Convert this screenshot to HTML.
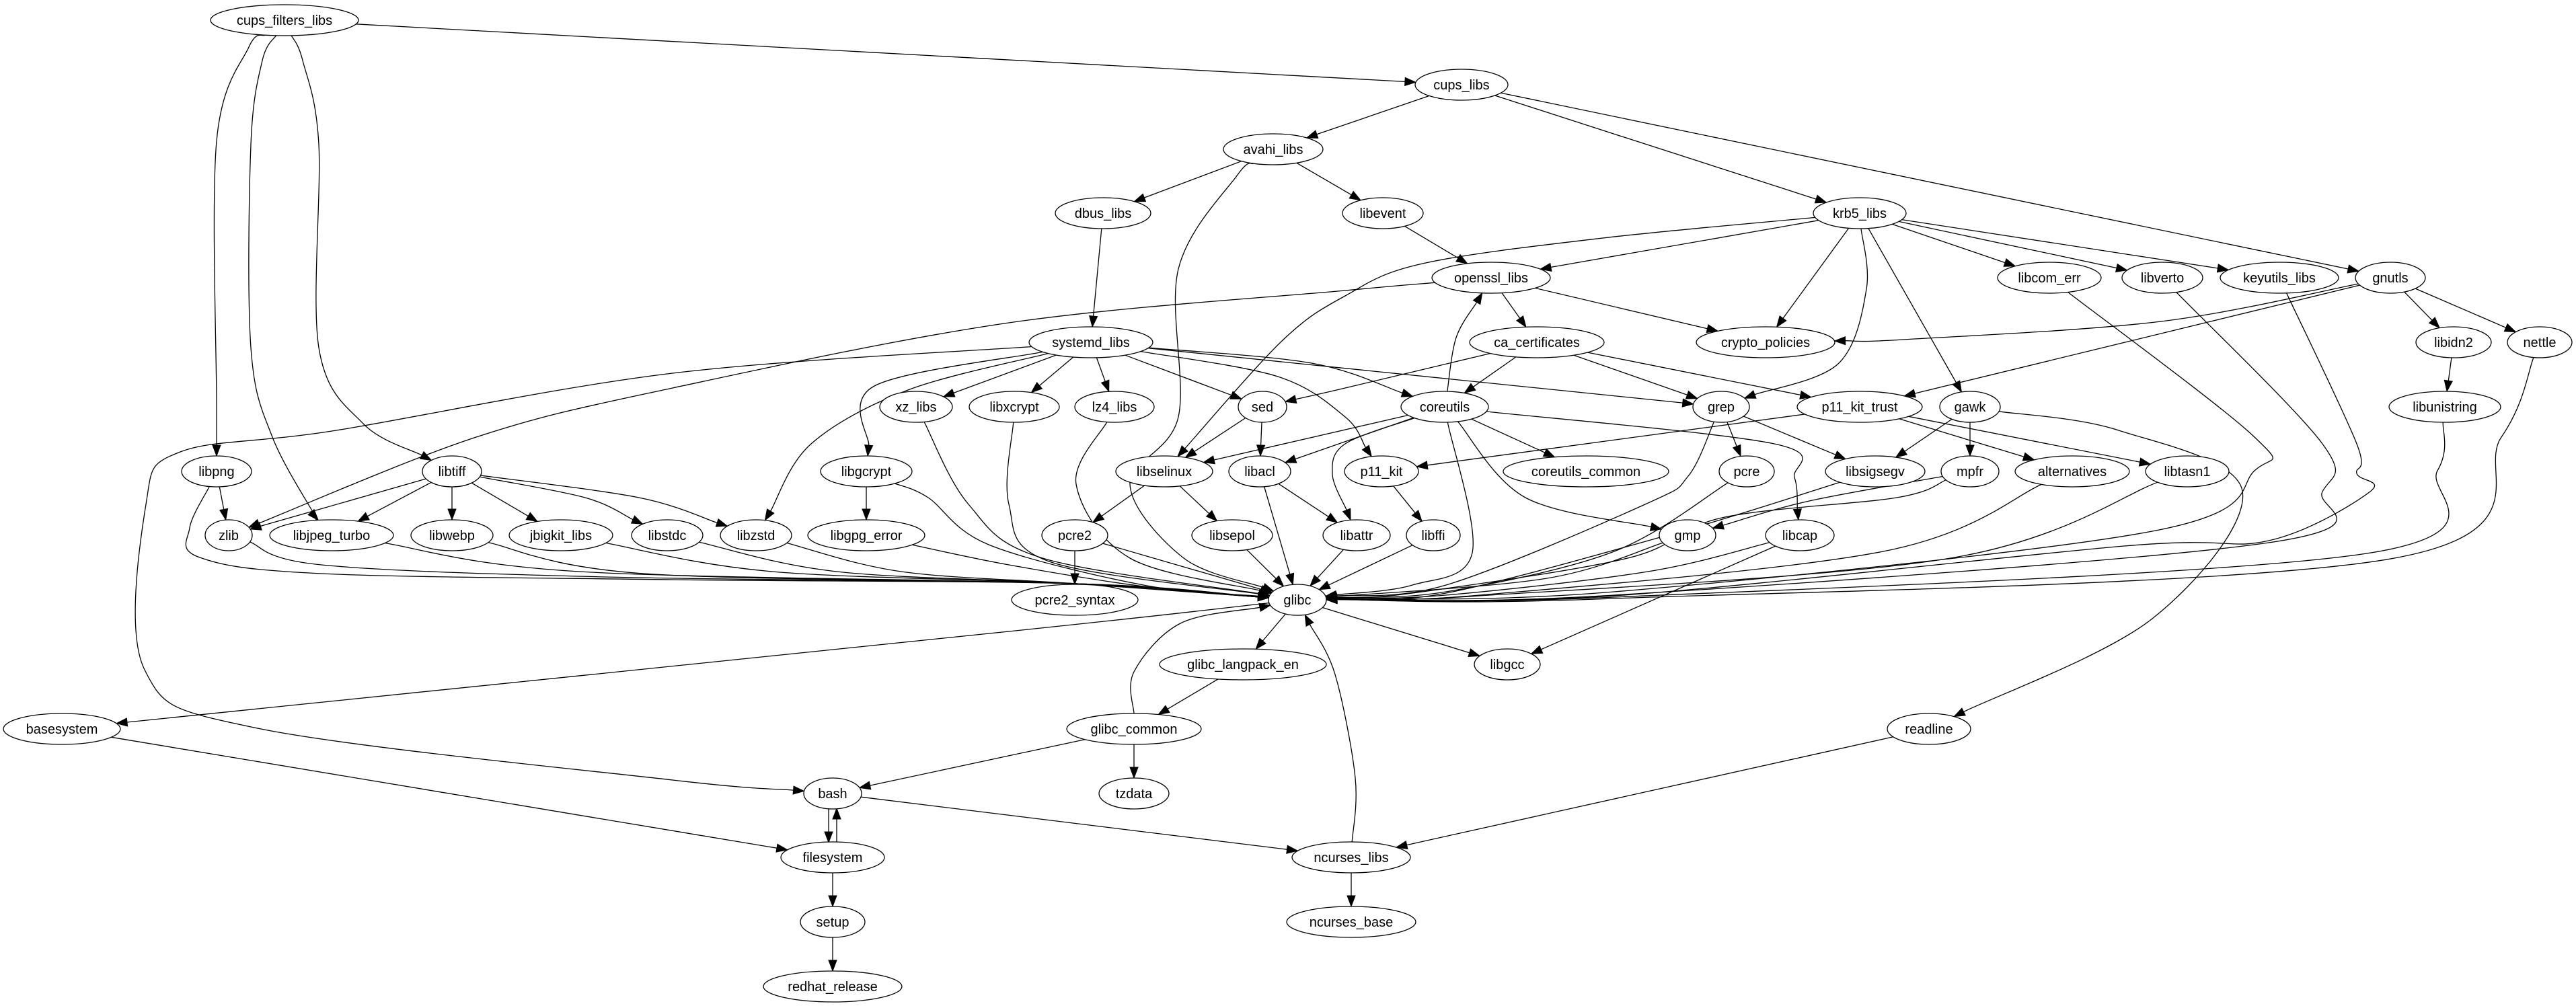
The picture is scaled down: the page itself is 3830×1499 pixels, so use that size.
<!DOCTYPE html>
<html><head><meta charset="utf-8"><style>
html,body{margin:0;padding:0;background:#fff;}
svg{display:block;}
text{font-family:"Liberation Sans","DejaVu Sans",sans-serif;font-size:20px;fill:#000;stroke:none;}
</style></head><body>
<svg id="g" width="3830" height="1499" viewBox="0 0 3830 1499" xmlns="http://www.w3.org/2000/svg">
<g id="edges" fill="none" stroke="#000" stroke-width="1.3"></g>
<g id="arrows" fill="#000" stroke="#000" stroke-width="1"></g>
<g id="nodes" fill="#fff" stroke="#000" stroke-width="1.3" text-anchor="middle">
<ellipse cx="423" cy="30" rx="110" ry="23"/><text x="423" y="37">cups_filters_libs</text>
<ellipse cx="2173" cy="126" rx="69" ry="23"/><text x="2173" y="133">cups_libs</text>
<ellipse cx="1893" cy="222" rx="74" ry="23"/><text x="1893" y="229">avahi_libs</text>
<ellipse cx="1640" cy="317" rx="71" ry="23"/><text x="1640" y="324">dbus_libs</text>
<ellipse cx="2056" cy="317" rx="60" ry="23"/><text x="2056" y="324">libevent</text>
<ellipse cx="2765" cy="317" rx="69" ry="23"/><text x="2765" y="324">krb5_libs</text>
<ellipse cx="2217" cy="413" rx="88" ry="23"/><text x="2217" y="420">openssl_libs</text>
<ellipse cx="3047" cy="413" rx="77" ry="23"/><text x="3047" y="420">libcom_err</text>
<ellipse cx="3215" cy="413" rx="60" ry="23"/><text x="3215" y="420">libverto</text>
<ellipse cx="3389" cy="413" rx="88" ry="23"/><text x="3389" y="420">keyutils_libs</text>
<ellipse cx="3554" cy="413" rx="52" ry="23"/><text x="3554" y="420">gnutls</text>
<ellipse cx="1622" cy="509" rx="92" ry="23"/><text x="1622" y="516">systemd_libs</text>
<ellipse cx="2285" cy="509" rx="100" ry="23"/><text x="2285" y="516">ca_certificates</text>
<ellipse cx="2625" cy="509" rx="103" ry="23"/><text x="2625" y="516">crypto_policies</text>
<ellipse cx="3648" cy="509" rx="56" ry="23"/><text x="3648" y="516">libidn2</text>
<ellipse cx="3776" cy="509" rx="48" ry="23"/><text x="3776" y="516">nettle</text>
<ellipse cx="1362" cy="605" rx="54" ry="23"/><text x="1362" y="612">xz_libs</text>
<ellipse cx="1508" cy="605" rx="67" ry="23"/><text x="1508" y="612">libxcrypt</text>
<ellipse cx="1657" cy="605" rx="59" ry="23"/><text x="1657" y="612">lz4_libs</text>
<ellipse cx="1877" cy="605" rx="36" ry="23"/><text x="1877" y="612">sed</text>
<ellipse cx="2148" cy="605" rx="65" ry="23"/><text x="2148" y="612">coreutils</text>
<ellipse cx="2559" cy="605" rx="42" ry="23"/><text x="2559" y="612">grep</text>
<ellipse cx="2765" cy="605" rx="93" ry="23"/><text x="2765" y="612">p11_kit_trust</text>
<ellipse cx="2929" cy="605" rx="45" ry="23"/><text x="2929" y="612">gawk</text>
<ellipse cx="3635" cy="605" rx="83" ry="23"/><text x="3635" y="612">libunistring</text>
<ellipse cx="322" cy="701" rx="52" ry="23"/><text x="322" y="708">libpng</text>
<ellipse cx="672" cy="701" rx="44" ry="23"/><text x="672" y="708">libtiff</text>
<ellipse cx="1288" cy="701" rx="68" ry="23"/><text x="1288" y="708">libgcrypt</text>
<ellipse cx="1731" cy="701" rx="72" ry="23"/><text x="1731" y="708">libselinux</text>
<ellipse cx="1873" cy="701" rx="46" ry="23"/><text x="1873" y="708">libacl</text>
<ellipse cx="2054" cy="701" rx="55" ry="23"/><text x="2054" y="708">p11_kit</text>
<ellipse cx="2358" cy="701" rx="123" ry="23"/><text x="2358" y="708">coreutils_common</text>
<ellipse cx="2597" cy="701" rx="41" ry="23"/><text x="2597" y="708">pcre</text>
<ellipse cx="2788" cy="701" rx="74" ry="23"/><text x="2788" y="708">libsigsegv</text>
<ellipse cx="2929" cy="701" rx="43" ry="23"/><text x="2929" y="708">mpfr</text>
<ellipse cx="3081" cy="701" rx="85" ry="23"/><text x="3081" y="708">alternatives</text>
<ellipse cx="3252" cy="701" rx="62" ry="23"/><text x="3252" y="708">libtasn1</text>
<ellipse cx="340" cy="796" rx="35" ry="23"/><text x="340" y="803">zlib</text>
<ellipse cx="493" cy="796" rx="92" ry="23"/><text x="493" y="803">libjpeg_turbo</text>
<ellipse cx="672" cy="796" rx="61" ry="23"/><text x="672" y="803">libwebp</text>
<ellipse cx="834" cy="796" rx="77" ry="23"/><text x="834" y="803">jbigkit_libs</text>
<ellipse cx="992" cy="796" rx="53" ry="23"/><text x="992" y="803">libstdc</text>
<ellipse cx="1124" cy="796" rx="53" ry="23"/><text x="1124" y="803">libzstd</text>
<ellipse cx="1288" cy="796" rx="87" ry="23"/><text x="1288" y="803">libgpg_error</text>
<ellipse cx="1598" cy="796" rx="49" ry="23"/><text x="1598" y="803">pcre2</text>
<ellipse cx="1832" cy="796" rx="60" ry="23"/><text x="1832" y="803">libsepol</text>
<ellipse cx="2017" cy="796" rx="50" ry="23"/><text x="2017" y="803">libattr</text>
<ellipse cx="2131" cy="796" rx="40" ry="23"/><text x="2131" y="803">libffi</text>
<ellipse cx="2509" cy="796" rx="42" ry="23"/><text x="2509" y="803">gmp</text>
<ellipse cx="2676" cy="796" rx="51" ry="23"/><text x="2676" y="803">libcap</text>
<ellipse cx="1929" cy="892" rx="43" ry="23"/><text x="1929" y="899">glibc</text>
<ellipse cx="1598" cy="892" rx="94" ry="23"/><text x="1598" y="899">pcre2_syntax</text>
<ellipse cx="1848" cy="988" rx="124" ry="23"/><text x="1848" y="995">glibc_langpack_en</text>
<ellipse cx="2241" cy="988" rx="49" ry="23"/><text x="2241" y="995">libgcc</text>
<ellipse cx="92" cy="1084" rx="87" ry="23"/><text x="92" y="1091">basesystem</text>
<ellipse cx="1686" cy="1084" rx="100" ry="23"/><text x="1686" y="1091">glibc_common</text>
<ellipse cx="2868" cy="1084" rx="62" ry="23"/><text x="2868" y="1091">readline</text>
<ellipse cx="1686" cy="1180" rx="52" ry="23"/><text x="1686" y="1187">tzdata</text>
<ellipse cx="1238" cy="1180" rx="43" ry="23"/><text x="1238" y="1187">bash</text>
<ellipse cx="2009" cy="1275" rx="88" ry="23"/><text x="2009" y="1282">ncurses_libs</text>
<ellipse cx="1238" cy="1275" rx="77" ry="23"/><text x="1238" y="1282">filesystem</text>
<ellipse cx="1238" cy="1371" rx="48" ry="23"/><text x="1238" y="1378">setup</text>
<ellipse cx="2009" cy="1371" rx="96" ry="23"/><text x="2009" y="1378">ncurses_base</text>
<ellipse cx="1238" cy="1467" rx="103" ry="23"/><text x="1238" y="1474">redhat_release</text>
</g>
</svg>
<script>
(function(){
var N={};
var els=document.querySelectorAll('#nodes ellipse');
for(var i=0;i<els.length;i++){var e=els[i];var t=e.nextElementSibling.textContent;
N[t]=[+e.getAttribute('cx'),+e.getAttribute('cy'),+e.getAttribute('rx'),+e.getAttribute('ry')];}
function clip(n,p){var dx=p[0]-n[0],dy=p[1]-n[1];var t=1/Math.sqrt((dx/n[2])*(dx/n[2])+(dy/n[3])*(dy/n[3]));return [n[0]+dx*t,n[1]+dy*t];}
var E=[
['cups_filters_libs','cups_libs'],
['cups_filters_libs','libpng',[[370,70],[322,210],[322,600]]],
['cups_filters_libs','libjpeg_turbo',[[390,90],[373,215],[373,517],[405,650],[470,770]]],
['cups_filters_libs','libtiff',[[450,90],[474,215],[474,517],[540,630]]],
['cups_libs','avahi_libs'],['cups_libs','krb5_libs'],['cups_libs','gnutls'],
['avahi_libs','dbus_libs'],['avahi_libs','libevent'],
['avahi_libs','glibc',[[1840,260],[1752,400],[1752,620],[1680,720],[1760,830]]],
['dbus_libs','systemd_libs'],['libevent','openssl_libs'],
['krb5_libs','openssl_libs'],['krb5_libs','crypto_policies'],
['krb5_libs','libselinux',[[2383,354],[2115,392],[2000,440],[1906,507]]],
['krb5_libs','grep',[[2775,430],[2733,541]]],
['krb5_libs','gawk'],['krb5_libs','libcom_err'],['krb5_libs','libverto'],['krb5_libs','keyutils_libs'],
['openssl_libs','ca_certificates'],['openssl_libs','crypto_policies'],
['openssl_libs','zlib',[[2000,432],[1500,480],[1000,577],[708,650]]],
['coreutils','openssl_libs',[[2165,502]]],
['ca_certificates','sed',[[2000,577]]],['ca_certificates','coreutils'],['ca_certificates','grep'],['ca_certificates','p11_kit_trust'],
['gnutls','crypto_policies',[[3213,478],[2830,505]]],
['gnutls','p11_kit_trust'],['gnutls','libidn2'],['gnutls','nettle'],
['libidn2','libunistring'],
['systemd_libs','xz_libs'],['systemd_libs','libxcrypt'],['systemd_libs','lz4_libs'],['systemd_libs','sed'],
['systemd_libs','coreutils',[[1950,540]]],['systemd_libs','grep'],
['systemd_libs','p11_kit',[[1900,560],[2000,620]]],
['systemd_libs','libgcrypt',[[1300,574]]],
['systemd_libs','libzstd',[[1350,580],[1206,660]]],
['systemd_libs','bash',[[1000,555],[500,640],[268,672],[217,750],[215,996],[383,1083],[1000,1160]]],
['coreutils','libselinux'],['coreutils','libacl'],
['coreutils','libattr',[[2000,660],[1981,705]]],
['coreutils','gmp',[[2268,740]]],
['coreutils','libcap',[[2638,660],[2668,710]]],
['coreutils','coreutils_common'],
['coreutils','glibc',[[2189,822],[2100,870]]],
['sed','libselinux'],['sed','libacl'],
['grep','pcre'],['grep','libsigsegv'],
['grep','glibc',[[2510,708],[2446,750],[2150,870]]],
['p11_kit_trust','p11_kit'],['p11_kit_trust','alternatives'],['p11_kit_trust','libtasn1'],
['gawk','libsigsegv'],['gawk','mpfr'],
['gawk','readline',[[3150,640],[3334,730],[3200,920]]],
['libselinux','pcre2'],['libselinux','libsepol'],
['libacl','libattr'],['libacl','glibc'],['p11_kit','libffi'],
['mpfr','gmp',[[2690,745]]],
['mpfr','glibc',[[2820,740],[2560,770],[2420,830],[2100,882]]],
['libtiff','zlib'],['libtiff','libjpeg_turbo'],['libtiff','libwebp'],['libtiff','jbigkit_libs'],
['libtiff','libstdc',[[870,740]]],['libtiff','libzstd',[[950,740]]],
['libpng','zlib'],
['libpng','glibc',[[282,785],[297,829],[478,853],[1000,862],[1600,868]]],
['zlib','glibc',[[478,840],[900,858],[1600,868]]],
['libjpeg_turbo','glibc',[[861,850],[1600,868]]],
['libwebp','glibc',[[957,853],[1600,868]]],
['jbigkit_libs','glibc',[[1148,850],[1600,868]]],
['libstdc','glibc',[[1244,850],[1600,868]]],
['libzstd','glibc',[[1340,850],[1600,868]]],
['libgpg_error','glibc',[[1500,840],[1700,872]]],
['libgcrypt','libgpg_error'],
['libgcrypt','glibc',[[1380,740],[1470,810],[1700,870]]],
['xz_libs','glibc',[[1440,750],[1550,830]]],
['libxcrypt','glibc',[[1500,750],[1560,835]]],
['lz4_libs','glibc',[[1600,720],[1680,830]]],
['pcre2','pcre2_syntax'],['pcre2','glibc'],['libsepol','glibc'],['libattr','glibc'],['libffi','glibc'],
['gmp','glibc',[[2300,860]]],
['libcap','glibc',[[2450,850],[2150,885]]],
['libcap','libgcc'],
['pcre','glibc',[[2400,820],[2150,880]]],
['libsigsegv','glibc',[[2500,790],[2150,882]]],
['alternatives','glibc',[[2800,820],[2200,885]]],
['libtasn1','glibc',[[2900,830],[2200,886]]],
['libcom_err','glibc',[[3352,650],[3352,700],[3200,790],[2400,880]]],
['libverto','glibc',[[3453,660],[3453,731],[3373,807],[2400,885]]],
['keyutils_libs','glibc',[[3504,660],[3504,704],[3524,731],[3373,804],[3158,812],[2400,886]]],
['libunistring','glibc',[[3624,700],[3519,823],[2400,888]]],
['nettle','glibc',[[3719,650],[3560,830],[2400,890]]],
['glibc','glibc_langpack_en'],['glibc','libgcc'],
['glibc','basesystem',[[1500,939]]],
['glibc_langpack_en','glibc_common'],
['glibc_common','glibc',[[1686,999],[1755,927]]],
['glibc_common','bash'],['glibc_common','tzdata'],
['ncurses_libs','glibc',[[2015,1157],[1985,1003]]],
['ncurses_libs','ncurses_base'],
['readline','ncurses_libs'],
['bash','ncurses_libs'],
['basesystem','filesystem'],
['filesystem','setup'],['setup','redhat_release']
];
var eg=document.getElementById('edges'),ag=document.getElementById('arrows');
var NS='http://www.w3.org/2000/svg';
function draw(pts){
  var d='M'+pts[0][0].toFixed(1)+','+pts[0][1].toFixed(1);
  if(pts.length==2){d+='L'+pts[1][0].toFixed(1)+','+pts[1][1].toFixed(1);}
  else{for(var i=0;i<pts.length-1;i++){var p0=pts[i-1]||pts[i],p1=pts[i],p2=pts[i+1],p3=pts[i+2]||p2;
    var c1=[p1[0]+(p2[0]-p0[0])/6,p1[1]+(p2[1]-p0[1])/6],c2=[p2[0]-(p3[0]-p1[0])/6,p2[1]-(p3[1]-p1[1])/6];
    d+='C'+c1[0].toFixed(1)+','+c1[1].toFixed(1)+' '+c2[0].toFixed(1)+','+c2[1].toFixed(1)+' '+p2[0].toFixed(1)+','+p2[1].toFixed(1);}}
  var p=document.createElementNS(NS,'path');p.setAttribute('d',d);eg.appendChild(p);
}
function arrow(tip,from){var dx=tip[0]-from[0],dy=tip[1]-from[1],l=Math.sqrt(dx*dx+dy*dy);dx/=l;dy/=l;
  var L=16,W=6,b=[tip[0]-dx*L,tip[1]-dy*L];
  var pg=document.createElementNS(NS,'polygon');
  pg.setAttribute('points',tip[0]+','+tip[1]+' '+(b[0]-dy*W)+','+(b[1]+dx*W)+' '+(b[0]+dy*W)+','+(b[1]-dx*W));
  ag.appendChild(pg);return b;}
function edge(a,b,via,offset){
  var A=N[a],B=N[b];via=via||[];offset=offset||0;
  var first=via.length?via[0]:[B[0],B[1]];var last=via.length?via[via.length-1]:[A[0],A[1]];
  var s=clip(A,[first[0]+offset,first[1]]);var t=clip(B,[last[0]+offset,last[1]]);
  if(offset){s=[A[0]+offset,A[1]+(A[1]<B[1]?A[3]-1:-A[3]+1)];t=[B[0]+offset,B[1]+(A[1]<B[1]?-B[3]+1:B[3]-1)];}
  var prev=via.length?via[via.length-1]:s;
  var base=arrow(t,prev);
  draw([s].concat(via).concat([base]));
}
for(var i=0;i<E.length;i++){edge(E[i][0],E[i][1],E[i][2]);}
edge('bash','filesystem',null,-6);
edge('filesystem','bash',null,6);
})();
</script>
</body></html>
